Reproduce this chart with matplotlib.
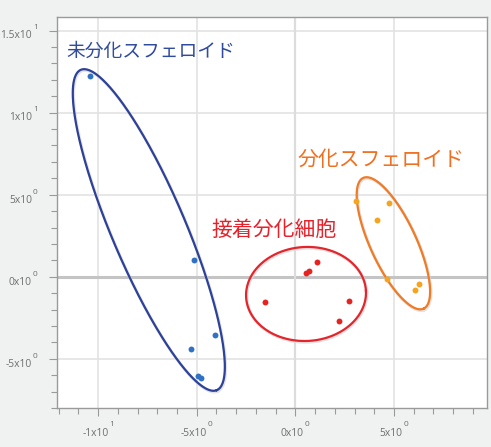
import numpy as np
import matplotlib
matplotlib.use("Agg")
import matplotlib.pyplot as plt
from matplotlib.ticker import FixedLocator, MultipleLocator

plt.rcParams['font.family'] = ['Noto Sans CJK JP', 'DejaVu Sans']

# ---- data ----
blue_x = [-10.4, -5.13, -5.28, -4.07, -4.93, -4.78]
blue_y = [12.24, 1.02, -4.40, -3.56, -6.05, -6.20]
red_x = [-1.53, 0.54, 0.71, 1.08, 2.71, 2.20]
red_y = [-1.56, 0.21, 0.37, 0.91, -1.46, -2.68]
orange_x = [3.08, 4.75, 4.16, 4.66, 6.29, 6.07]
orange_y = [4.60, 4.51, 3.46, -0.16, -0.46, -0.81]

group_names = ['未分化スフェロイド', '接着分化細胞', '分化スフェロイド']

x_ticks = [-10, -5, 0, 5]
x_tick_base = ['-1x10', '-5x10', '0x10', '5x10']
x_tick_exp = ['1', '0', '0', '0']
y_ticks = [-5, 0, 5, 10, 15]
y_tick_base = ['-5x10', '0x10', '5x10', '1x10', '1.5x10']
y_tick_exp = ['0', '0', '0', '1', '1']

# ellipse annotations: center (data), semi-axes (pixels), angle (deg, screen)
ellipses = [
    dict(c=(-7.43, 2.85), a=174, b=37, ang=-67.0, col='#2d4199'),
    dict(c=(0.54, -1.05), a=60, b=47, ang=3.0, col='#e5252c'),
    dict(c=(4.97, 2.04), a=72, b=23, ang=-65.2, col='#f07b24'),
]

W, H = 491, 447
fig = plt.figure(figsize=(W / 100, H / 100), dpi=100, facecolor='#f0f2f2')
ax = fig.add_axes([56.7 / W, 1 - 408 / H, (486.7 - 56.7) / W, (408 - 16.7) / H])
ax.set_facecolor('white')
ax.set_xlim(-12.1, 9.7)
ax.set_ylim(-8.0, 15.85)

ax.xaxis.set_major_locator(FixedLocator(x_ticks))
ax.yaxis.set_major_locator(FixedLocator(y_ticks))
ax.xaxis.set_minor_locator(MultipleLocator(1))
ax.yaxis.set_minor_locator(MultipleLocator(1))

for s in ax.spines.values():
    s.set_color('#9a9a9a')
    s.set_linewidth(1.0)
ax.tick_params(which='major', direction='out', length=6, width=0.8, color='#9a9a9a',
               labelbottom=False, labelleft=False)
ax.tick_params(which='minor', direction='out', length=4, width=0.8, color='#9a9a9a')

ax.grid(True, which='major', color='#e3e3e3', lw=1.2, zorder=0)
ax.set_axisbelow(True)
ax.axhline(0, color='#c4c4c4', lw=2.2, zorder=1)
ax.axvline(0, color='#dcdcdc', lw=1.6, zorder=1)

# custom tick labels with raised exponents
fig.canvas.draw()
renderer = fig.canvas.get_renderer()
lab_kw = dict(family=['Open Sans', 'DejaVu Sans'], color='#6e6e6e',
              textcoords='offset pixels', annotation_clip=False)
for tk, base, ex in zip(x_ticks, x_tick_base, x_tick_exp):
    tb = ax.annotate(base, (tk, 0), xycoords=('data', 'axes fraction'), xytext=(0, -25.7),
                     ha='left', va='center', fontsize=7.4, **lab_kw)
    ts = ax.annotate(ex, (tk, 0), xycoords=('data', 'axes fraction'), xytext=(0, -17),
                     ha='left', va='center', fontsize=6.0, **lab_kw)
    wb = tb.get_window_extent(renderer).width
    ws = ts.get_window_extent(renderer).width
    total = wb + 1 + ws
    tb.xyann = (-total / 2, -25.7)
    ts.xyann = (-total / 2 + wb + 1, -17)
for tk, base, ex in zip(y_ticks, y_tick_base, y_tick_exp):
    ts = ax.annotate(ex, (0, tk), xycoords=('axes fraction', 'data'), xytext=(-19, 2.7),
                     ha='right', va='center', fontsize=6.0, **lab_kw)
    ws = ts.get_window_extent(renderer).width
    ax.annotate(base, (0, tk), xycoords=('axes fraction', 'data'), xytext=(-19 - ws - 1, -5.3),
                ha='right', va='center', fontsize=7.4, **lab_kw)

# ellipses
pxx = (ax.transData.transform((1, 0))[0] - ax.transData.transform((0, 0))[0])
pxy = (ax.transData.transform((0, 1))[1] - ax.transData.transform((0, 0))[1])
t = np.linspace(0, 2 * np.pi, 400)
for e in ellipses:
    th = np.deg2rad(e['ang'])
    u = e['a'] * np.cos(t)
    v = e['b'] * np.sin(t)
    dx = u * np.cos(th) - v * np.sin(th)
    dy = u * np.sin(th) + v * np.cos(th)
    exx = e['c'][0] + dx / pxx
    eyy = e['c'][1] + dy / pxy
    ax.plot(exx + 0.8 / pxx, eyy - 1.2 / pxy, color='#d8d8d8', lw=2.2, zorder=2, alpha=0.7)
    ax.plot(exx, eyy, color=e['col'], lw=1.6, zorder=3)

ax.scatter(blue_x, blue_y, s=18, color='#2f72c4', zorder=4, linewidths=0)
ax.scatter(red_x, red_y, s=18, color='#e52421', zorder=4, linewidths=0)
ax.scatter(orange_x, orange_y, s=18, color='#f5a41f', zorder=4, linewidths=0)

ax.text(-11.62, 13.76, group_names[0], color='#2f4a9e', fontsize=13.5, ha='left', va='center', zorder=5)
ax.text(-4.24, 2.85, group_names[1], color='#e8202a', fontsize=15, ha='left', va='center', zorder=5)
ax.text(0.1, 7.12, group_names[2], color='#f07022', fontsize=15, ha='left', va='center', zorder=5)

fig.savefig('out.png', dpi=100, facecolor=fig.get_facecolor())
